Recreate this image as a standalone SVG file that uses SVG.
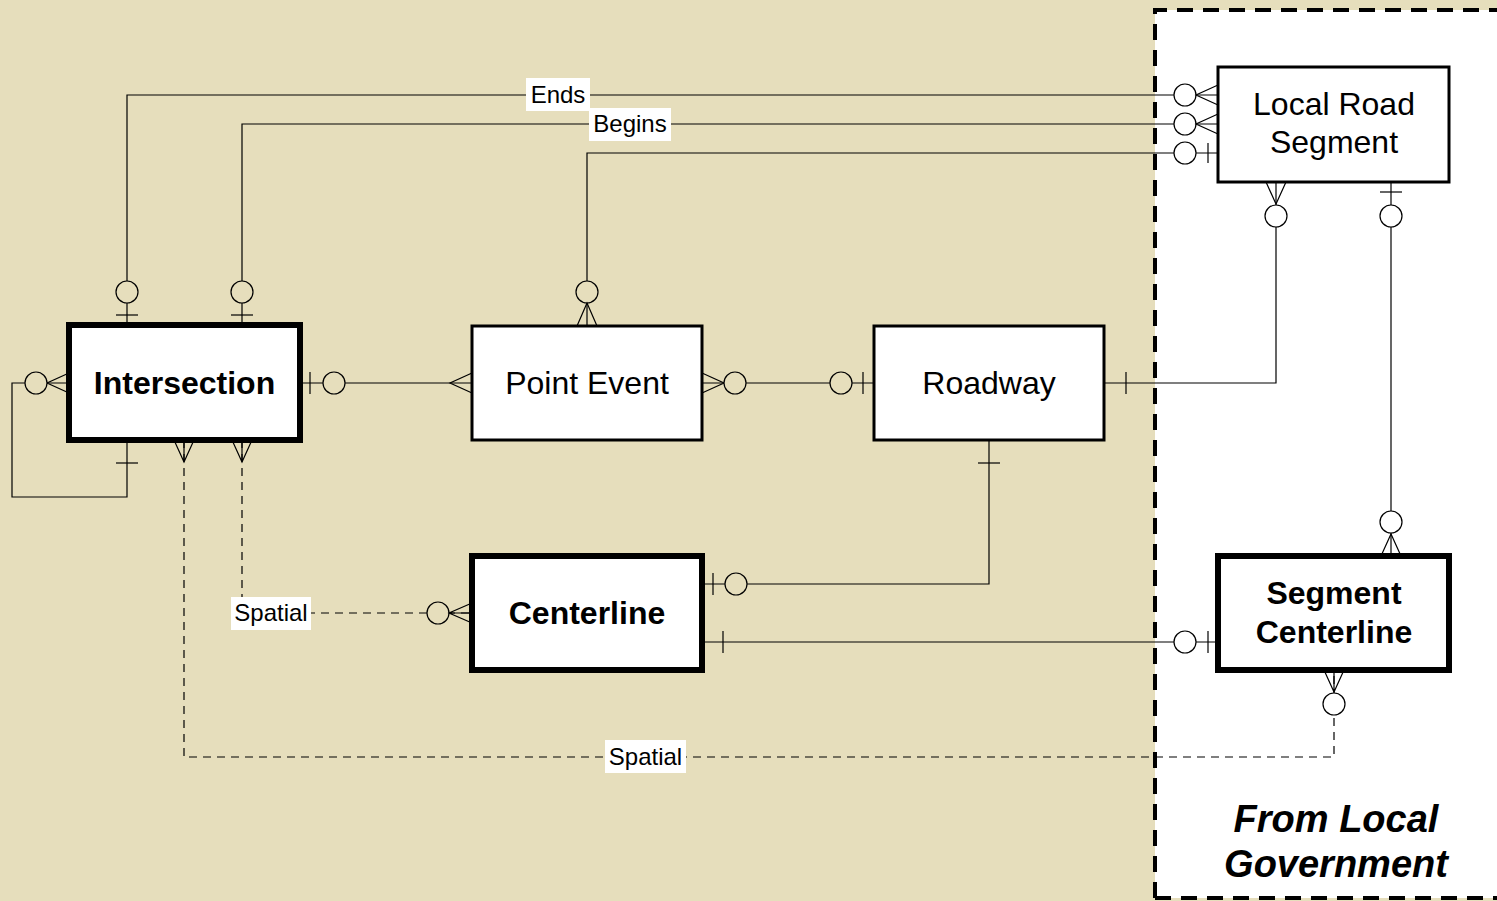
<svg xmlns="http://www.w3.org/2000/svg" width="1497" height="901" viewBox="0 0 1497 901">
<style>
.ln{fill:none;stroke:#000;stroke-width:1.2}
.ds{fill:none;stroke:#000;stroke-width:1.2;stroke-dasharray:8 6}
.cb{fill:#E6DEBC;stroke:#000;stroke-width:1.2}
.cw{fill:#fff;stroke:#000;stroke-width:1.2}
.box{fill:#fff;stroke:#000;stroke-width:3}
.boxb{fill:#fff;stroke:#000;stroke-width:6}
.t{font-family:"Liberation Sans",Arial,sans-serif;font-size:32px;text-anchor:middle}
.tb{font-family:"Liberation Sans",Arial,sans-serif;font-size:32px;font-weight:bold;text-anchor:middle}
.lb{font-family:"Liberation Sans",Arial,sans-serif;font-size:24px;text-anchor:middle}
.lbg{fill:#fff}
.fl{font-family:"Liberation Sans",Arial,sans-serif;font-size:38px;font-weight:bold;font-style:italic;text-anchor:middle}
</style>
<rect x="0" y="0" width="1497" height="901" fill="#E6DEBC"/>
<rect x="1155" y="10" width="360" height="888" fill="#fff"/>
<path d="M1155,898 V10 H1497 M1155,898 H1497" fill="none" stroke="#000" stroke-width="4" stroke-dasharray="16 10"/>
<g id="connectors">
  <!-- Ends -->
  <path class="ln" d="M127,325 V95 H1218"/>
  <path class="ln" d="M116,315 H138"/>
  <circle class="cb" cx="127" cy="292" r="11"/>
  <circle class="cw" cx="1185" cy="95" r="11"/>
  <path class="ln" d="M1218,85 L1196,95 L1218,105"/>
  <!-- Begins -->
  <path class="ln" d="M242,325 V124 H1218"/>
  <path class="ln" d="M231,315 H253"/>
  <circle class="cb" cx="242" cy="292" r="11"/>
  <circle class="cw" cx="1185" cy="124" r="11"/>
  <path class="ln" d="M1218,114 L1196,124 L1218,134"/>
  <!-- Point Event to LRS -->
  <path class="ln" d="M587,326 V153 H1218"/>
  <circle class="cb" cx="587" cy="292" r="11"/>
  <path class="ln" d="M577,326 L587,303 L597,326"/>
  <circle class="cw" cx="1185" cy="153" r="11"/>
  <path class="ln" d="M1208,143 V163"/>
  <!-- Intersection to Point Event -->
  <path class="ln" d="M300,383 H472"/>
  <path class="ln" d="M310,372 V394"/>
  <circle class="cb" cx="334" cy="383" r="11"/>
  <path class="ln" d="M472,373 L450,383 L472,393"/>
  <!-- Point Event to Roadway -->
  <path class="ln" d="M702,383 H874"/>
  <path class="ln" d="M702,373 L724,383 L702,393"/>
  <circle class="cb" cx="735" cy="383" r="11"/>
  <circle class="cb" cx="841" cy="383" r="11"/>
  <path class="ln" d="M863,372 V394"/>
  <!-- Roadway to LRS -->
  <path class="ln" d="M1104,383 H1276 V182"/>
  <path class="ln" d="M1126,372 V394"/>
  <path class="ln" d="M1266,182 L1276,204 L1286,182"/>
  <circle class="cw" cx="1276" cy="216" r="11"/>
  <!-- LRS to Segment Centerline -->
  <path class="ln" d="M1391,182 V556"/>
  <path class="ln" d="M1380,192 H1402"/>
  <circle class="cw" cx="1391" cy="216" r="11"/>
  <circle class="cw" cx="1391" cy="522" r="11"/>
  <path class="ln" d="M1381,556 L1391,534 L1401,556"/>
  <!-- Intersection self loop -->
  <path class="ln" d="M69,383 H12 V497 H127 V440"/>
  <path class="ln" d="M69,373 L47,383 L69,393"/>
  <circle class="cb" cx="36" cy="383" r="11"/>
  <path class="ln" d="M116,463 H138"/>
  <!-- Roadway to Centerline -->
  <path class="ln" d="M989,440 V584 H702"/>
  <path class="ln" d="M978,463 H1000"/>
  <path class="ln" d="M713,573 V595"/>
  <circle class="cb" cx="736" cy="584" r="11"/>
  <!-- Centerline to Segment Centerline -->
  <path class="ln" d="M702,642 H1218"/>
  <path class="ln" d="M723,631 V653"/>
  <circle class="cw" cx="1185" cy="642" r="11"/>
  <path class="ln" d="M1208,631 V653"/>
  <!-- Spatial Intersection to Centerline -->
  <path class="ds" d="M242,440 V613 H472"/>
  <path class="ln" d="M232,440 L242,462 L252,440 M242,440 V462"/>
  <circle class="cb" cx="438" cy="613" r="11"/>
  <path class="ln" d="M472,603 L449,613 L472,623 M449,613 H472"/>
  <rect class="lbg" x="231" y="597" width="80" height="33"/>
  <text class="lb" x="271" y="621">Spatial</text>
  <!-- Spatial Intersection to Segment Centerline -->
  <path class="ds" d="M184,440 V757 H1334 V670"/>
  <path class="ln" d="M174,440 L184,462 L194,440 M184,440 V462"/>
  <path class="ln" d="M1324,670 L1334,692 L1344,670 M1334,670 V692"/>
  <circle class="cw" cx="1334" cy="704" r="11"/>
  <rect class="lbg" x="605" y="740" width="81" height="33"/>
  <text class="lb" x="645.5" y="765">Spatial</text>
  <!-- labels for Ends/Begins -->
  <rect class="lbg" x="526" y="78" width="64" height="33"/>
  <text class="lb" x="558" y="103">Ends</text>
  <rect class="lbg" x="589" y="108" width="82" height="33"/>
  <text class="lb" x="630" y="132">Begins</text>
</g>
<g id="local-road-segment">
  <rect class="box" x="1218" y="67" width="231" height="115"/>
  <text class="t" x="1334" y="115">Local Road</text>
  <text class="t" x="1334" y="153">Segment</text>
</g>
<g id="intersection">
  <rect class="boxb" x="69" y="325" width="231" height="115"/>
  <text class="tb" x="184.5" y="394">Intersection</text>
</g>
<g id="point-event">
  <rect class="box" x="472" y="326" width="230" height="114"/>
  <text class="t" x="587" y="394">Point Event</text>
</g>
<g id="roadway">
  <rect class="box" x="874" y="326" width="230" height="114"/>
  <text class="t" x="989" y="394">Roadway</text>
</g>
<g id="centerline">
  <rect class="boxb" x="472" y="556" width="230" height="114"/>
  <text class="tb" x="587" y="624">Centerline</text>
</g>
<g id="segment-centerline">
  <rect class="boxb" x="1218" y="556" width="231" height="114"/>
  <text class="tb" x="1334" y="604">Segment</text>
  <text class="tb" x="1334" y="643">Centerline</text>
</g>
<g id="from-local-government">
  <text class="fl" x="1336" y="832">From Local</text>
  <text class="fl" x="1336" y="877">Government</text>
</g>
</svg>
